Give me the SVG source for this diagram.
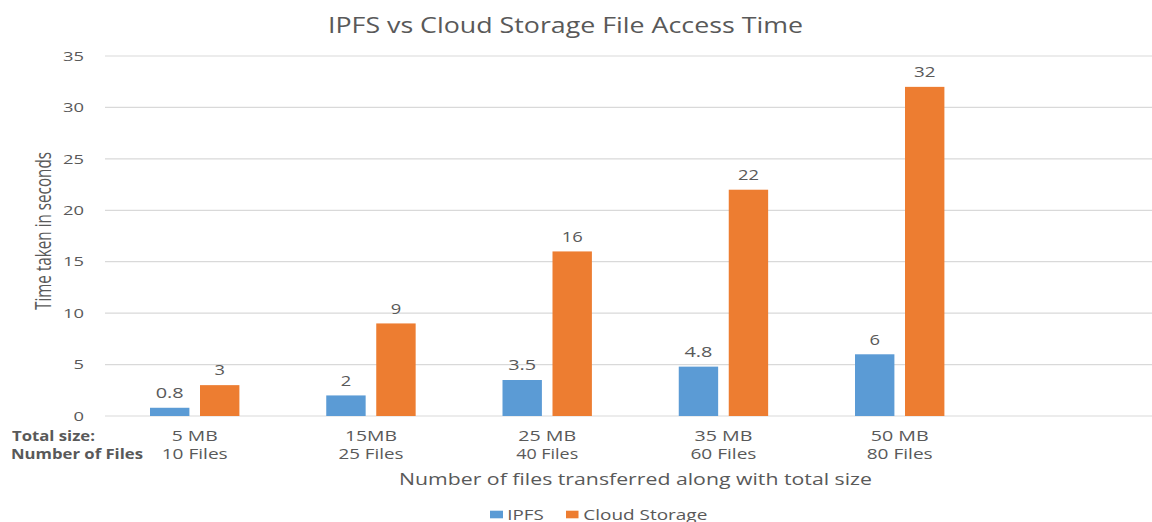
<svg xmlns="http://www.w3.org/2000/svg" width="1152" height="522" viewBox="0 0 1152 522">
<style>
text{font-family:"Open Sans","Noto Sans","Liberation Sans",sans-serif;fill:#595959;}
.grid{stroke:#D9D9D9;stroke-width:1.2;}
.ipfs{fill:#5B9BD5;}
.cloud{fill:#ED7D31;}
.tick{font-size:13.5px;text-anchor:end;}
.dl{font-size:14px;text-anchor:middle;}
.cat{font-size:14px;text-anchor:middle;}
.hdr{font-size:13.5px;font-weight:bold;}
.leg{font-size:15px;}
</style>
<rect width="1152" height="522" fill="#ffffff"/>
<text x="565.5" y="33" font-size="22.5" text-anchor="middle" textLength="475" lengthAdjust="spacingAndGlyphs">IPFS vs Cloud Storage File Access Time</text>
<g id="gridlines">
<line class="grid" x1="105" y1="56" x2="1152" y2="56"/>
<line class="grid" x1="105" y1="107.43" x2="1152" y2="107.43"/>
<line class="grid" x1="105" y1="158.86" x2="1152" y2="158.86"/>
<line class="grid" x1="105" y1="210.29" x2="1152" y2="210.29"/>
<line class="grid" x1="105" y1="261.71" x2="1152" y2="261.71"/>
<line class="grid" x1="105" y1="313.14" x2="1152" y2="313.14"/>
<line class="grid" x1="105" y1="364.57" x2="1152" y2="364.57"/>
<line class="grid" x1="105" y1="416" x2="1152" y2="416"/>
</g>
<g id="y-axis">
<text class="tick" x="84" y="60.7" textLength="21" lengthAdjust="spacingAndGlyphs">35</text>
<text class="tick" x="84" y="112.1" textLength="21" lengthAdjust="spacingAndGlyphs">30</text>
<text class="tick" x="84" y="163.6" textLength="21" lengthAdjust="spacingAndGlyphs">25</text>
<text class="tick" x="84" y="215" textLength="21" lengthAdjust="spacingAndGlyphs">20</text>
<text class="tick" x="84" y="266.4" textLength="21" lengthAdjust="spacingAndGlyphs">15</text>
<text class="tick" x="84" y="317.8" textLength="21" lengthAdjust="spacingAndGlyphs">10</text>
<text class="tick" x="84" y="369.3" textLength="10.5" lengthAdjust="spacingAndGlyphs">5</text>
<text class="tick" x="84" y="420.7" textLength="10.5" lengthAdjust="spacingAndGlyphs">0</text>
<text transform="translate(51,231) scale(1.4,1) rotate(-90)" x="0" y="0" font-size="16" text-anchor="middle" textLength="158" lengthAdjust="spacingAndGlyphs">Time taken in seconds</text>
</g>
<g id="bars-ipfs">
<rect class="ipfs" x="150" y="407.77" width="39.4" height="8.23"/>
<rect class="ipfs" x="326.25" y="395.43" width="39.4" height="20.57"/>
<rect class="ipfs" x="502.5" y="380" width="39.4" height="36"/>
<rect class="ipfs" x="678.75" y="366.63" width="39.4" height="49.37"/>
<rect class="ipfs" x="855" y="354.29" width="39.4" height="61.71"/>
</g>
<g id="bars-cloud">
<rect class="cloud" x="200" y="385.14" width="39.4" height="30.86"/>
<rect class="cloud" x="376.25" y="323.43" width="39.4" height="92.57"/>
<rect class="cloud" x="552.5" y="251.43" width="39.4" height="164.57"/>
<rect class="cloud" x="728.75" y="189.71" width="39.4" height="226.29"/>
<rect class="cloud" x="905" y="86.86" width="39.4" height="329.14"/>
</g>
<g id="data-labels">
<text class="dl" x="169.7" y="398" textLength="28" lengthAdjust="spacingAndGlyphs">0.8</text>
<text class="dl" x="345.95" y="385.6" textLength="10.5" lengthAdjust="spacingAndGlyphs">2</text>
<text class="dl" x="522.2" y="370.2" textLength="28" lengthAdjust="spacingAndGlyphs">3.5</text>
<text class="dl" x="698.45" y="356.8" textLength="28" lengthAdjust="spacingAndGlyphs">4.8</text>
<text class="dl" x="874.7" y="344.5" textLength="10.5" lengthAdjust="spacingAndGlyphs">6</text>
<text class="dl" x="219.7" y="375.3" textLength="10.5" lengthAdjust="spacingAndGlyphs">3</text>
<text class="dl" x="395.95" y="313.6" textLength="10.5" lengthAdjust="spacingAndGlyphs">9</text>
<text class="dl" x="572.2" y="241.6" textLength="21" lengthAdjust="spacingAndGlyphs">16</text>
<text class="dl" x="748.45" y="179.9" textLength="21" lengthAdjust="spacingAndGlyphs">22</text>
<text class="dl" x="924.7" y="77.2" textLength="21.5" lengthAdjust="spacingAndGlyphs">32</text>
</g>
<g id="x-axis">
<text class="hdr" x="12" y="441" textLength="83" lengthAdjust="spacingAndGlyphs">Total size:</text>
<text class="hdr" x="11" y="459" textLength="132" lengthAdjust="spacingAndGlyphs">Number of Files</text>
<text class="cat" x="194.7" y="441" textLength="46" lengthAdjust="spacingAndGlyphs">5 MB</text>
<text class="cat" x="194.7" y="459" textLength="66" lengthAdjust="spacingAndGlyphs">10 Files</text>
<text class="cat" x="370.95" y="441" textLength="52" lengthAdjust="spacingAndGlyphs">15MB</text>
<text class="cat" x="370.95" y="459" textLength="65" lengthAdjust="spacingAndGlyphs">25 Files</text>
<text class="cat" x="547.2" y="441" textLength="58" lengthAdjust="spacingAndGlyphs">25 MB</text>
<text class="cat" x="547.2" y="459" textLength="62" lengthAdjust="spacingAndGlyphs">40 Files</text>
<text class="cat" x="723.45" y="441" textLength="58" lengthAdjust="spacingAndGlyphs">35 MB</text>
<text class="cat" x="723.45" y="459" textLength="66" lengthAdjust="spacingAndGlyphs">60 Files</text>
<text class="cat" x="899.7" y="441" textLength="58" lengthAdjust="spacingAndGlyphs">50 MB</text>
<text class="cat" x="899.7" y="459" textLength="66" lengthAdjust="spacingAndGlyphs">80 Files</text>
<text x="635.5" y="485" font-size="15.5" text-anchor="middle" textLength="473" lengthAdjust="spacingAndGlyphs">Number of files transferred along with total size</text>
</g>
<g id="legend">
<rect class="ipfs" x="490" y="510.7" width="13" height="7.6"/>
<text class="leg" x="507.3" y="520" textLength="36.5" lengthAdjust="spacingAndGlyphs">IPFS</text>
<rect class="cloud" x="566" y="510.7" width="12.5" height="7.6"/>
<text class="leg" x="583.3" y="520" textLength="124" lengthAdjust="spacingAndGlyphs">Cloud Storage</text>
</g>
</svg>
